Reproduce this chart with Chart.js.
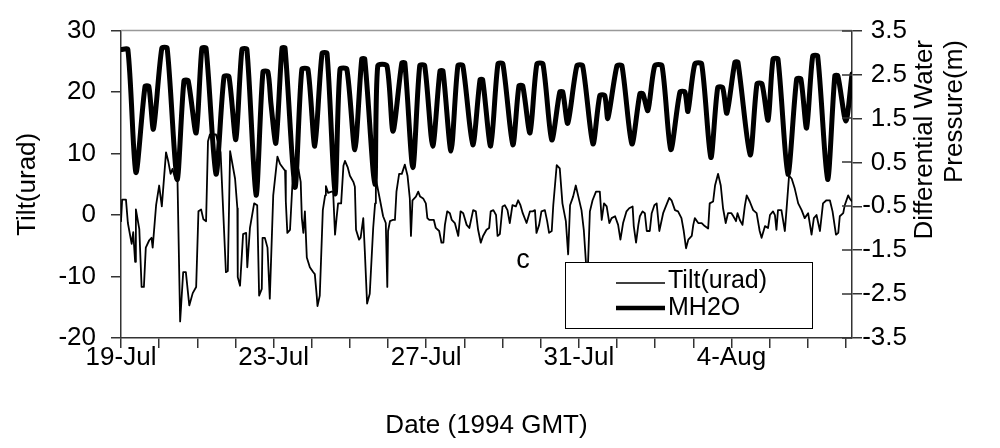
<!DOCTYPE html>
<html><head><meta charset="utf-8">
<script src="https://cdn.jsdelivr.net/npm/chart.js@4.4.1/dist/chart.umd.min.js"></script>
<style>html,body{margin:0;padding:0;background:#fff;}#wrap{width:1000px;height:448px;}</style>
</head><body><div id="wrap"><canvas id="c" width="1000" height="448"></canvas></div>
<script>
// ---- data (days since 19-Jul-1994 00:00 GMT) ----
const xTickDays = [0,1,2,3,4,5,6,7,8,9,10,11,12,13,14,15,16,17,18,19];
const xLabelDays = [0,4,8,12,16];
const xLabels = ['19-Jul','23-Jul','27-Jul','31-Jul','4-Aug'];
const leftTicks = [-20,-10,0,10,20,30];
const rightTicks = [-3.5,-2.5,-1.5,-0.5,0.5,1.5,2.5,3.5];
const seriesNames = ['Tilt(urad)','MH2O'];
const xTitle = 'Date (1994 GMT)';
const leftTitle = 'Tilt(urad)';
const rightTitle = ['Differential Water','Pressure(m)'];
const panelLabel = 'c';

const tiltDays = [0.00,0.03,0.13,0.18,0.28,0.32,0.37,0.39,0.48,0.54,0.60,0.65,0.74,0.80,0.83,0.92,1.00,1.07,1.18,1.24,1.30,1.35,1.42,1.48,1.55,1.63,1.70,1.79,1.88,1.97,2.03,2.10,2.16,2.23,2.28,2.33,2.49,2.61,2.75,2.80,2.86,2.99,3.05,3.06,3.12,3.20,3.28,3.31,3.38,3.49,3.57,3.62,3.69,3.71,3.77,3.84,3.90,3.99,4.10,4.17,4.30,4.32,4.36,4.43,4.50,4.58,4.65,4.71,4.74,4.78,4.82,4.87,4.95,5.04,5.08,5.13,5.15,5.21,5.29,5.35,5.37,5.43,5.52,5.56,5.61,5.65,5.69,5.77,5.83,5.87,5.94,6.00,6.09,6.13,6.16,6.24,6.28,6.35,6.39,6.45,6.52,6.61,6.66,6.68,6.79,6.87,6.94,6.98,7.00,7.05,7.12,7.18,7.22,7.29,7.36,7.44,7.51,7.57,7.60,7.64,7.73,7.79,7.84,7.92,7.99,8.03,8.08,8.20,8.25,8.34,8.40,8.45,8.49,8.55,8.62,8.67,8.75,8.84,8.90,8.97,9.06,9.13,9.23,9.30,9.36,9.43,9.49,9.58,9.65,9.69,9.76,9.83,9.87,9.93,10.00,10.06,10.13,10.19,10.26,10.35,10.41,10.47,10.53,10.63,10.72,10.79,10.85,10.89,10.96,11.02,11.11,11.17,11.22,11.29,11.33,11.42,11.50,11.57,11.66,11.72,11.77,11.85,11.92,11.98,12.07,12.13,12.19,12.24,12.29,12.36,12.45,12.55,12.60,12.66,12.73,12.80,12.86,12.95,13.03,13.09,13.16,13.25,13.32,13.41,13.44,13.50,13.56,13.60,13.67,13.73,13.78,13.86,13.91,13.98,14.04,14.11,14.21,14.28,14.37,14.43,14.52,14.60,14.69,14.75,14.81,14.87,14.96,15.00,15.04,15.13,15.22,15.30,15.39,15.43,15.52,15.57,15.65,15.72,15.78,15.85,15.91,16.00,16.05,16.12,16.16,16.22,16.29,16.35,16.40,16.48,16.57,16.66,16.74,16.79,16.88,16.96,17.01,17.09,17.14,17.18,17.22,17.31,17.40,17.44,17.51,17.58,17.66,17.75,17.84,17.92,18.01,18.10,18.16,18.23,18.32,18.40,18.49,18.58,18.65,18.74,18.80,18.84,18.93,18.97,19.06,19.10,19.16];
const tiltValues = [-1.0,2.5,2.5,-1.3,-4.7,-2.8,-7.6,0.9,-2.3,-11.7,-11.7,-5.3,-4.1,-3.7,-5.3,1.6,4.8,1.4,10.2,8.7,6.7,7.5,5.9,5.9,-17.3,-9.3,-9.3,-14.7,-12.7,-11.7,0.6,0.9,-0.7,-1.0,12.0,13.1,13.1,10.2,-9.3,-9.1,10.4,5.9,1.1,-10.1,-11.5,-3.1,-2.9,-8.5,-2.1,1.9,1.6,-13.1,-12.0,-3.7,-3.7,-5.3,-13.6,3.2,9.5,8.3,7.2,2.2,-2.9,-2.4,5.9,6.8,7.5,5.4,-0.5,-2.9,0.6,-6.9,-8.5,-9.3,-9.6,-13.1,-14.8,-13.1,0.8,3.2,4.7,3.6,3.8,3.8,-3.2,-0.5,1.9,1.9,8.0,8.8,7.8,6.4,5.4,4.6,-2.4,-4.0,-3.7,-0.5,-5.8,-14.4,-12.8,-2.1,1.9,5.9,2.4,-0.2,-1.3,-11.7,-2.6,-1.0,-0.8,-0.8,3.8,6.7,6.7,8.2,6.4,2.7,-3.4,2.4,3.0,3.8,3.0,2.7,1.9,-0.5,-0.8,-0.8,-2.1,-2.6,-4.5,-4.5,-1.6,0.6,0.3,-0.8,-1.3,-3.4,0.6,0.3,-1.6,-2.1,0.8,0.6,-2.4,-4.5,-3.4,-2.4,-2.1,0.6,0.8,0.0,-3.4,-3.1,1.4,1.6,0.8,-1.3,1.6,1.4,2.4,1.6,0.3,-1.3,0.6,0.6,0.8,-2.9,-1.6,0.6,0.8,-1.0,-2.9,-2.6,1.6,8.1,7.6,1.9,-1.0,-6.4,1.6,3.0,4.8,3.2,0.8,-2.4,-8.0,-8.0,0.6,2.4,3.8,3.8,-0.8,1.9,1.4,-1.3,-0.5,-0.2,-1.6,-4.0,-1.3,0.6,1.1,1.4,-1.8,-4.5,-1.6,-0.2,0.6,0.3,-2.6,-2.6,0.3,1.6,1.9,-2.6,0.3,1.4,2.8,2.4,0.8,0.6,-0.5,-2.6,-5.4,-4.0,-3.4,-1.6,-0.5,-1.3,-1.3,-1.8,-2.2,1.9,2.2,4.8,6.7,4.8,1.1,-1.3,0.3,0.3,-0.2,-1.0,0.3,-0.8,-1.6,1.4,3.2,2.2,0.8,0.3,-2.6,-3.7,-1.8,-2.1,0.0,0.6,0.0,-2.4,0.8,0.8,-2.6,0.6,6.4,5.9,4.3,1.9,0.8,-0.5,0.3,-3.2,-0.5,0.0,-2.6,1.9,2.4,2.4,0.6,-3.2,-2.9,-0.2,0.3,1.6,3.2,2.7,2.2];

const mh2oDays = [0.00,0.18,0.39,0.63,0.73,0.85,1.07,1.21,1.47,1.65,1.76,1.97,2.12,2.23,2.49,2.70,2.83,3.01,3.17,3.30,3.54,3.72,3.85,3.93,4.06,4.22,4.30,4.56,4.74,4.90,5.08,5.27,5.40,5.61,5.74,5.92,6.13,6.31,6.39,6.65,6.73,6.97,7.13,7.36,7.44,7.65,7.83,7.96,8.17,8.36,8.44,8.65,8.83,8.96,9.22,9.41,9.48,9.69,9.88,10.01,10.27,10.43,10.53,10.72,10.90,11.06,11.29,11.50,11.58,11.71,11.95,12.10,12.37,12.55,12.68,12.76,13.00,13.13,13.39,13.60,13.68,13.81,13.99,14.18,14.41,14.65,14.78,14.86,15.04,15.22,15.46,15.64,15.77,15.88,16.09,16.17,16.49,16.67,16.80,16.96,17.09,17.22,17.48,17.71,17.82,17.97,18.13,18.26,18.52,18.71,18.79,19.00,19.16];
const mh2oValues = [3.07,3.07,0.27,2.23,2.23,1.26,3.10,3.10,0.11,2.36,2.36,1.17,3.10,3.10,0.23,2.45,2.45,1.02,3.07,3.07,-0.25,2.56,2.56,1.84,0.94,3.10,3.10,-0.07,2.62,2.62,0.87,2.98,2.98,-0.22,2.62,2.62,0.79,2.85,2.85,0.00,2.70,2.70,1.21,2.76,2.76,0.38,2.70,2.70,0.87,2.58,2.58,0.76,2.70,2.70,0.90,2.38,2.38,0.87,2.74,2.74,0.90,2.24,2.24,1.17,2.74,2.74,1.01,2.10,2.10,1.39,2.70,2.70,0.92,2.02,2.02,1.50,2.70,2.70,0.92,2.06,2.06,1.68,2.70,2.70,0.79,2.10,2.10,1.66,2.74,2.74,0.61,2.20,2.20,1.62,2.78,2.78,0.67,2.29,2.29,1.46,2.85,2.85,0.23,2.40,2.40,1.28,2.92,2.92,0.11,2.47,2.47,1.44,2.51];

const FONT = '"Liberation Sans", Arial, Helvetica, sans-serif';
const AX = '#333333';
const pairs = (xs, ys) => xs.map((x, i) => ({x: x, y: ys[i]}));

const deco = {
  id: 'deco',
  afterDatasetsDraw(chart) {
    const ctx = chart.ctx, a = chart.chartArea;
    ctx.save();
    ctx.strokeStyle = '#999999'; ctx.lineWidth = 1.5;
    ctx.beginPath(); ctx.moveTo(a.left, a.top); ctx.lineTo(a.right, a.top); ctx.stroke();
    const y1 = chart.scales.y1;
    ctx.strokeStyle = AX; ctx.lineWidth = 1.5;
    y1.ticks.forEach(t => {
      const py = Math.round(y1.getPixelForValue(t.value));
      ctx.beginPath(); ctx.moveTo(a.right - 10, py); ctx.lineTo(a.right, py); ctx.stroke();
    });
    const lx = 565, ly = 262, lw = 247, lh = 66;
    ctx.fillStyle = '#fff'; ctx.fillRect(lx, ly, lw, lh);
    ctx.strokeStyle = '#000'; ctx.lineWidth = 1;
    ctx.strokeRect(lx + 0.5, ly + 0.5, lw, lh);
    const ds = chart.data.datasets;
    const rows = [283, 308];
    ds.forEach((d, i) => {
      ctx.strokeStyle = d.borderColor; ctx.lineWidth = i === 0 ? 1.6 : 4.5;
      ctx.beginPath(); ctx.moveTo(616, rows[i]); ctx.lineTo(665, rows[i]); ctx.stroke();
      ctx.fillStyle = '#000'; ctx.font = '25px ' + FONT;
      ctx.textAlign = 'left'; ctx.textBaseline = 'alphabetic';
      ctx.fillText(d.label, 668, rows[i] + (i === 0 ? 5 : 7));
    });
    ctx.font = '27px ' + FONT; ctx.textAlign = 'center'; ctx.textBaseline = 'alphabetic';
    ctx.fillText(panelLabel, 523, 268);
    // right axis title: two lines, rotated to read upward, ending near the top
    ctx.font = '26px ' + FONT; ctx.textAlign = 'right'; ctx.textBaseline = 'middle';
    [[925, rightTitle[0]], [955, rightTitle[1]]].forEach(([px, txt]) => {
      ctx.save(); ctx.translate(px, 40); ctx.rotate(-Math.PI / 2);
      ctx.fillText(txt, 0, 0); ctx.restore();
    });
    ctx.restore();
  }
};

const tickFont = {family: FONT, size: 26};
new Chart(document.getElementById('c'), {
  type: 'line',
  data: {
    datasets: [
      {label: seriesNames[0], data: pairs(tiltDays, tiltValues), yAxisID: 'y', borderColor: '#000', borderWidth: 1.8, order: 1},
      {label: seriesNames[1], data: pairs(mh2oDays, mh2oValues), yAxisID: 'y1', borderColor: '#000', borderWidth: 5, tension: 0.25, order: 0}
    ]
  },
  options: {
    responsive: false, animation: false, devicePixelRatio: 1,
    layout: {padding: {top: 26, left: 0, right: 93, bottom: 0}},
    plugins: {legend: {display: false}, tooltip: {enabled: false}},
    elements: {point: {radius: 0}, line: {tension: 0, borderJoinStyle: 'round', borderCapStyle: 'round'}},
    scales: {
      x: {
        type: 'linear', min: 0, max: 19.16,
        afterBuildTicks: s => { s.ticks = xTickDays.map(v => ({value: v})); },
        afterFit: s => { s.height = 110; },
        ticks: {autoSkip: false, maxRotation: 0, minRotation: 0, padding: -6, color: '#000', font: tickFont,
          callback: v => { const i = xLabelDays.indexOf(v); return i >= 0 ? xLabels[i] : ''; }},
        grid: {drawOnChartArea: false, tickLength: 10, color: AX, lineWidth: 1.5},
        border: {color: AX, width: 1.5},
        title: {display: true, text: xTitle, color: '#000', font: tickFont, padding: {top: 0, bottom: 7}}
      },
      y: {
        position: 'left', min: -20, max: 30,
        afterBuildTicks: s => { s.ticks = leftTicks.map(v => ({value: v})); },
        afterFit: s => { s.width = 121; },
        ticks: {padding: 15, color: '#000', font: tickFont},
        grid: {drawOnChartArea: false, tickLength: 10, color: AX, lineWidth: 1.5},
        border: {color: AX, width: 1.5},
        title: {display: true, text: leftTitle, color: '#000', font: tickFont, padding: {top: 12, bottom: 0}}
      },
      y1: {
        position: 'right', min: -3.5, max: 3.5,
        afterBuildTicks: s => { s.ticks = rightTicks.map(v => ({value: v})); },
        afterFit: s => { s.width = 55; },
        ticks: {padding: 1, crossAlign: 'far', color: '#000', font: tickFont, callback: v => Number(v).toFixed(1)},
        grid: {drawOnChartArea: false, tickLength: 10, color: AX, lineWidth: 1.5},
        border: {color: AX, width: 1.5}
      }
    }
  },
  plugins: [deco]
});
</script></body></html>
